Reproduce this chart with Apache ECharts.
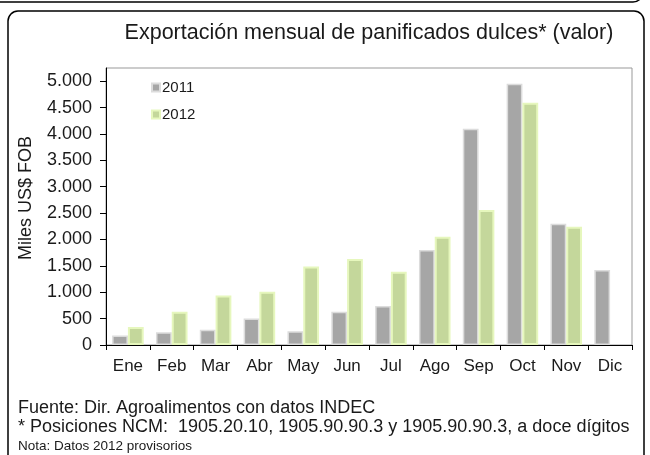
<!DOCTYPE html>
<html>
<head>
<meta charset="utf-8">
<script src="https://cdn.jsdelivr.net/npm/echarts@6/dist/echarts.min.js"></script>
<style>
html,body{margin:0;padding:0;background:#fff;}
#c{width:650px;height:455px;}
</style>
</head>
<body>
<div id="c"></div>
<script>
var categories = ['Ene','Feb','Mar','Abr','May','Jun','Jul','Ago','Sep','Oct','Nov','Dic'];
var values2011 = [180, 240, 290, 500, 260, 630, 740, 1800, 4100, 4950, 2300, 1420];
var values2012 = [340, 630, 940, 1010, 1490, 1630, 1390, 2050, 2560, 4590, 2240, null];
var yTicks = [0, 500, 1000, 1500, 2000, 2500, 3000, 3500, 4000, 4500, 5000];

var chart = echarts.init(document.getElementById('c'), null, {renderer: 'canvas'});
var txt = '#1a1a1a';
var fontFam = 'Liberation Sans, Arial, sans-serif';

function fmt(v) {
  return String(v).replace(/\B(?=(\d{3})+(?!\d))/g, '.');
}

chart.setOption({
  animation: false,
  backgroundColor: '#fff',
  textStyle: {fontFamily: fontFam},
  graphic: [
    {type: 'rect', shape: {x: -20, y: -60, width: 663, height: 62, r: 10}, style: {fill: 'none', stroke: '#000', lineWidth: 1.5}},
    {type: 'rect', shape: {x: 8, y: 11, width: 636, height: 480, r: 10}, style: {fill: 'none', stroke: '#000', lineWidth: 1.5}},
    {type: 'text', x: 26, y: 198, rotation: Math.PI / 2 * 1, style: {text: 'Miles US$ FOB', fill: txt, font: '18px Liberation Sans, Arial, sans-serif', align: 'center', verticalAlign: 'middle'}, rotation: Math.PI / 2},
    {type: 'text', left: 18, top: 399, style: {text: 'Fuente: Dir. Agroalimentos con datos INDEC', fill: txt, font: '18px Liberation Sans, Arial, sans-serif'}},
    {type: 'text', left: 18, top: 418, style: {text: '* Posiciones NCM:  1905.20.10, 1905.90.90.3 y 1905.90.90.3, a doce dígitos', fill: txt, font: '18px Liberation Sans, Arial, sans-serif'}},
    {type: 'text', left: 18, top: 439, style: {text: 'Nota: Datos 2012 provisorios', fill: txt, font: '13.5px Liberation Sans, Arial, sans-serif'}}
  ],
  title: {
    text: 'Exportación mensual de panificados dulces* (valor)',
    left: 364, textAlign: 'center', top: 17,
    textStyle: {fontSize: 21.5, fontWeight: 'normal', color: txt, fontFamily: fontFam}
  },
  legend: {
    orient: 'vertical', left: 146, top: 75, itemGap: 12,
    itemWidth: 8, itemHeight: 8, icon: 'rect',
    textStyle: {fontSize: 15, color: txt, fontFamily: fontFam, padding: [0, 0, 0, -3]},
    data: ['2011', '2012']
  },
  grid: {left: 106, right: 18, top: 68, bottom: 110, show: true, borderColor: '#999', borderWidth: 1},
  xAxis: {
    type: 'category', data: categories,
    axisLine: {lineStyle: {color: '#000', width: 1}},
    axisTick: {show: true, length: 5, lineStyle: {color: '#000'}},
    axisLabel: {interval: 0, fontSize: 17, color: txt, margin: 13, fontFamily: fontFam}
  },
  yAxis: {
    type: 'value', min: 0, max: 5250,
    axisLine: {show: true, lineStyle: {color: '#000', width: 1}},
    axisTick: {show: true, length: 6, lineStyle: {color: '#000'}, customValues: yTicks},
    axisLabel: {fontSize: 18, color: txt, margin: 14, fontFamily: fontFam, customValues: yTicks, formatter: fmt},
    splitLine: {show: false}
  },
  series: [
    {name: '2011', type: 'bar', data: values2011, barGap: '0%', barCategoryGap: '28%',
     itemStyle: {color: '#a6a6a6', borderColor: '#dcdcdc', borderWidth: 1.5}},
    {name: '2012', type: 'bar', data: values2012, barGap: '0%', barCategoryGap: '28%',
     itemStyle: {color: '#c4d79b', borderColor: '#e6f7bd', borderWidth: 2}}
  ]
});
</script>
</body>
</html>
